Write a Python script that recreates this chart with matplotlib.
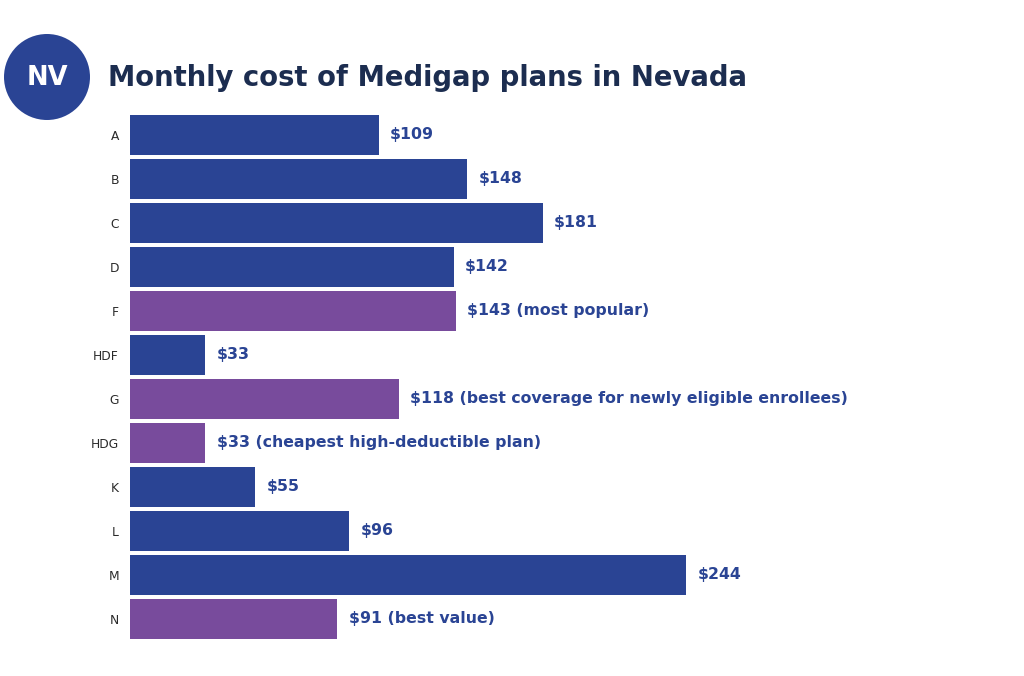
import matplotlib.pyplot as plt
from matplotlib.patches import Circle

plans = ["A", "B", "C", "D", "F", "HDF", "G", "HDG", "K", "L", "M", "N"]
costs = [109, 148, 181, 142, 143, 33, 118, 33, 55, 96, 244, 91]
notes = ["", "", "", "", " (most popular)", "", " (best coverage for newly eligible enrollees)",
         " (cheapest high-deductible plan)", "", "", "", " (best value)"]
featured = [False, False, False, False, True, False, True, True, False, False, False, True]

BLUE = "#2A4494"
PURPLE = "#784B9C"
NAVY = "#1C2D50"
FONT = ["DejaVu Sans"]

fig = plt.figure(figsize=(10.24, 6.76), dpi=100)
fig.patch.set_facecolor("white")

# axes placed so that bars start at x=130px and one unit is ~2.28px
ax = fig.add_axes([130 / 1024, 35 / 676, 870 / 1024, 528 / 676])
ax.set_xlim(0, 870 / 2.28)
ax.set_ylim(len(plans) - 0.5, -0.5)

colors = [PURPLE if f else BLUE for f in featured]
ypos = list(range(len(plans)))
ax.barh(ypos, costs, height=0.9, color=colors, edgecolor="none")

for y, c, n in zip(ypos, costs, notes):
    ax.text(c + 5, y, f"${c}{n}", va="center", ha="left", fontsize=11.3,
            fontweight="bold", color=BLUE, family=FONT)

ax.set_yticks(ypos)
ax.set_yticklabels(plans, fontsize=8.8, color="#2a2a2a", family=FONT)
ax.tick_params(axis="y", length=0, pad=8)
ax.set_xticks([])
for s in ax.spines.values():
    s.set_visible(False)

# title and state badge
fig.text(108 / 1024, 1 - 78 / 676, "Monthly cost of Medigap plans in Nevada",
         fontsize=19.8, fontweight="bold", color=NAVY, va="center", ha="left", family=FONT)
badge = Circle((47 / 100, (676 - 77) / 100), 43 / 100, transform=fig.dpi_scale_trans,
               facecolor=BLUE, edgecolor="none")
fig.patches.append(badge)
fig.text(47 / 1024, 1 - 78 / 676, "NV", fontsize=18.5, fontweight="bold", color="white",
         va="center", ha="center", family=FONT)

fig.savefig("out.png", dpi=100, facecolor="white")
